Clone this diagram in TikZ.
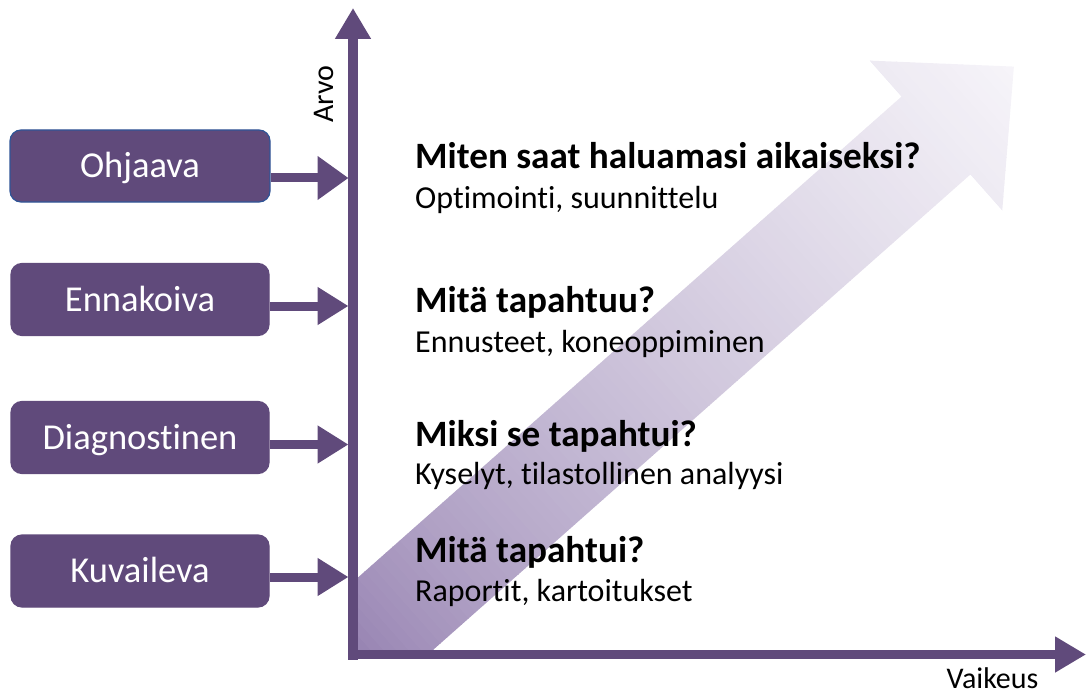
\documentclass[tikz,border=0pt]{standalone}
\usepackage{fontspec}
\setmainfont{Carlito}[Ligatures=NoCommon]
\usetikzlibrary{arrows.meta}
\definecolor{purp}{HTML}{604A7B}
\definecolor{gtail}{HTML}{9480B0}
\definecolor{gtip}{HTML}{F6F4F9}
\definecolor{bblue}{HTML}{2F5597}
\begin{document}
\begin{tikzpicture}[x=1pt,y=-1pt,
  catbox/.style={draw=purp, line width=1.2pt, fill=purp, rounded corners=11pt,
    minimum width=258pt, minimum height=72pt, text=white, inner sep=0pt,
    text height=23.2pt, text depth=0pt, font=\fontsize{36.5}{40}\selectfont},
  catarrow/.style={draw=purp, line width=9pt, -{Triangle[length=31pt,width=36pt]}},
  axisline/.style={draw=purp, line width=9.5pt, -{Triangle[length=31pt,width=34pt]}},
  heading/.style={anchor=base west, inner sep=0pt, font=\bfseries\fontsize{37.2}{40}\selectfont},
  subtext/.style={anchor=base west, inner sep=0pt, font=\fontsize{32}{36}\selectfont},
  axislabel/.style={inner sep=0pt, font=\fontsize{30}{34}\selectfont}
]
\useasboundingbox (0,0) rectangle (1086,695);

% gradient arrow
\begin{scope}
  \clip (353,0) rectangle (1086,654.5);
  \begin{scope}[shift={(936,135.5)}, rotate=41.5]
    \clip (-840,-52) -- (0,-52) -- (0,-100) -- (104,0) -- (0,100) -- (0,52) -- (-840,52) -- cycle;
    \foreach \i in {0,...,99} {
      \pgfmathsetmacro\ta{-840+\i*9.44}
      \pgfmathsetmacro\tb{\ta+10}
      \pgfmathsetmacro\f{max(0.001,min(1,(\ta+4.72+780)/884))}
      \pgfmathsetmacro\p{100*\f^0.7}
      \fill[color=gtip!\p!gtail] (\ta,-110) -- (\tb,-110) -- (\tb,110) -- (\ta,110) -- cycle;
    }
  \end{scope}
\end{scope}

% axes
\coordinate (origin) at (353,654.5);
\coordinate (ybottom) at (353,659.5);
\coordinate (ytip) at (353,8);
\coordinate (xleft) at (348.25,654.5);
\coordinate (xtip) at (1086,654.5);
\draw[axisline] (ybottom) -- (ytip);
\draw[axisline] (xleft) -- (xtip);

\node[axislabel, rotate=90, anchor=base] (arvo) at (333,94) {Arvo};
\node[axislabel, anchor=base] (vaikeus) at (992.5,688) {Vaikeus};

% category boxes
\node[catbox, draw=bblue, minimum width=260pt] (ohj) at (140,166) {Ohjaava};
\node[catbox] (enn) at (140,299.5) {Ennakoiva};
\node[catbox] (dia) at (140,437.5) {Diagnostinen};
\node[catbox] (kuv) at (140,571) {Kuvaileva};

\coordinate (a1) at (348.5,178);
\coordinate (a2) at (348.5,306);
\coordinate (a3) at (348.5,444.5);
\coordinate (a4) at (348.5,577);
\draw[catarrow, -{Triangle[length=31pt,width=42pt]}] (ohj.east |- a1) -- (a1);
\draw[catarrow] (enn.east |- a2) -- (a2);
\draw[catarrow] (dia.east |- a3) -- (a3);
\draw[catarrow] (kuv.east |- a4) -- (a4);

% texts
\node[heading] (h1) at (415,168) {Miten saat haluamasi aikaiseksi?};
\node[subtext] (s1) at (415,208) {Optimointi, suunnittelu};
\node[heading] (h2) at (415,312) {Mitä tapahtuu?};
\node[subtext] (s2) at (415,352) {Ennusteet, koneoppiminen};
\node[heading] (h3) at (415,446) {Miksi se tapahtui?};
\node[subtext] (s3) at (415,484) {Kyselyt, tilastollinen analyysi};
\node[heading] (h4) at (415,562) {Mitä tapahtui?};
\node[subtext] (s4) at (415,601) {Raportit, kartoitukset};
\end{tikzpicture}
\end{document}
